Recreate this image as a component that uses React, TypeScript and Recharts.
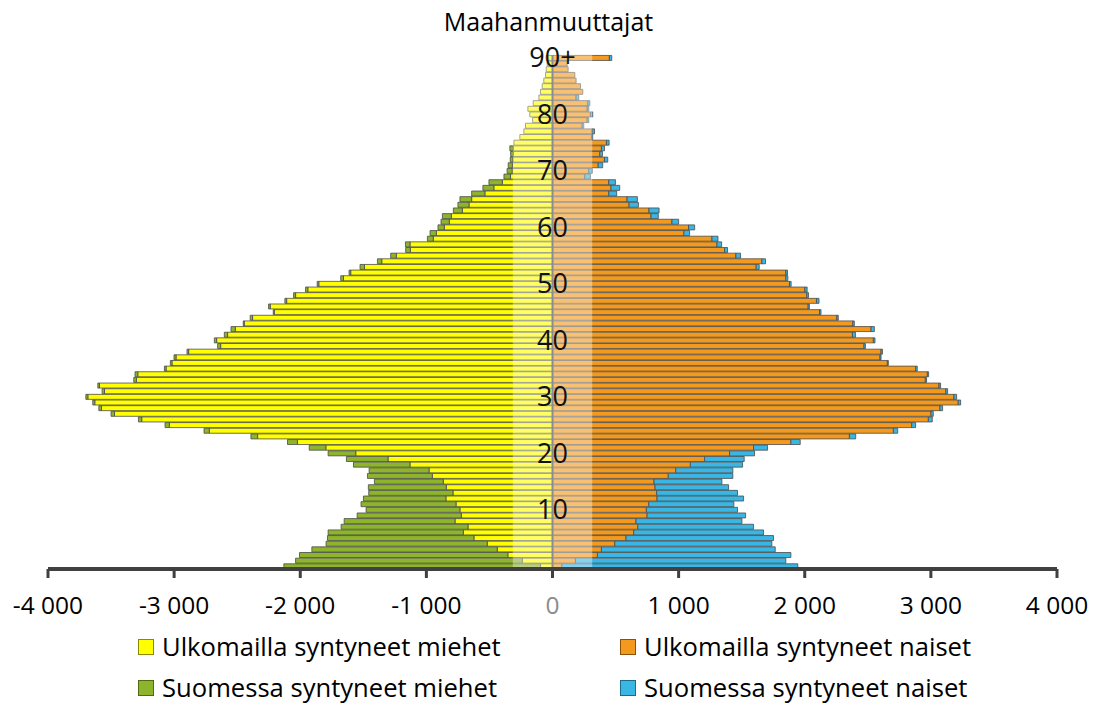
import React from 'react';
import { BarChart, Bar, XAxis, YAxis, ReferenceArea, ReferenceLine } from 'recharts';

// ages 0..89 and 90+
const ages = [...Array.from({ length: 90 }, (_, i) => String(i)), '90+'];

// values per age, index = age (0..90+)
const maleAbroad = [
  95, 240, 354, 438, 517, 623, 707, 670, 773, 723,
  734, 765, 845, 789, 842, 866, 953, 979, 1130, 1304,
  1560, 1797, 2022, 2338, 2721, 3038, 3257, 3473, 3576, 3629,
  3684, 3552, 3592, 3299, 3288, 3064, 3017, 2985, 2885, 2631,
  2663, 2576, 2515, 2444, 2378, 2206, 2238, 2108, 2037, 1940,
  1853, 1657, 1600, 1491, 1354, 1238, 1127, 1130, 945, 921,
  858, 818, 802, 715, 662, 641, 536, 465, 398, 333,
  320, 318, 315, 310, 311, 306, 259, 227, 214, 158,
  180, 195, 153, 108, 95, 82, 69, 55, 50, 42,
  50,
];
const maleFinland = [
  2035, 1797, 1652, 1470, 1278, 1161, 1072, 1006, 879, 826,
  744, 753, 654, 668, 618, 546, 514, 475, 448, 330,
  219, 132, 79, 53, 42, 34, 26, 27, 21, 16,
  16, 19, 13, 21, 22, 13, 13, 16, 13, 24,
  18, 26, 34, 8, 19, 8, 13, 14, 16, 18,
  13, 22, 13, 35, 34, 45, 37, 36, 47, 50,
  50, 66, 71, 71, 88, 93, 105, 87, 106, 52,
  40, 33, 20, 22, 27, 0, 0, 0, 0, 0,
  0, 0, 0, 0, 0, 0, 0, 0, 0, 0,
  0,
];
const femaleAbroad = [
  74, 182, 356, 388, 494, 583, 644, 676, 662, 750,
  744, 763, 829, 826, 813, 805, 918, 977, 1093, 1206,
  1404, 1594, 1890, 2354, 2703, 2848, 2980, 3001, 3072, 3217,
  3183, 3119, 3064, 2956, 2972, 2879, 2655, 2597, 2605, 2470,
  2544, 2378, 2526, 2381, 2254, 2117, 2027, 2093, 2016, 2001,
  1879, 1850, 1850, 1615, 1660, 1454, 1365, 1304, 1264, 1042,
  1079, 947, 781, 765, 607, 591, 446, 464, 446, 256,
  288, 362, 412, 375, 388, 428, 309, 314, 235, 275,
  301, 275, 280, 187, 240, 222, 187, 177, 124, 116,
  451,
];
const femaleFinland = [
  1871, 1668, 1534, 1378, 1245, 1169, 1029, 918, 840, 781,
  723, 675, 686, 641, 583, 538, 512, 453, 414, 314,
  198, 111, 74, 50, 34, 31, 31, 18, 21, 19,
  21, 14, 13, 10, 10, 13, 8, 8, 11, 11,
  13, 24, 26, 12, 12, 12, 10, 20, 14, 18,
  13, 16, 13, 24, 29, 37, 23, 37, 48, 45,
  48, 53, 58, 80, 74, 82, 63, 69, 53, 45,
  26, 36, 26, 21, 24, 21, 10, 19, 13, 13,
  18, 13, 16, 21, 0, 0, 0, 0, 0, 0,
  19,
];

const xTicks = [-4000, -3000, -2000, -1000, 0, 1000, 2000, 3000, 4000];
const ageLabels = ['10', '20', '30', '40', '50', '60', '70', '80', '90+'];

const series = [
  { key: 'maleAbroad', name: 'Ulkomailla syntyneet miehet', color: '#FFFF00', border: '#8a8a00' },
  { key: 'maleFinland', name: 'Suomessa syntyneet miehet', color: '#8DB42B', border: '#4f6a10' },
  { key: 'femaleAbroad', name: 'Ulkomailla syntyneet naiset', color: '#F39A1E', border: '#8a5208' },
  { key: 'femaleFinland', name: 'Suomessa syntyneet naiset', color: '#3AB6E4', border: '#1d6a8a' },
];

const data = ages.map((age, i) => ({
  age,
  maleAbroad: -maleAbroad[i],
  maleFinland: -maleFinland[i],
  femaleAbroad: femaleAbroad[i],
  femaleFinland: femaleFinland[i],
}));

const font = '"Open Sans", sans-serif';

const fmt = (v: number) => {
  const s = String(Math.abs(v)).replace(/\B(?=(\d{3})+(?!\d))/g, ' ');
  return v < 0 ? '-' + s : s;
};

const XTick = (props: any) => {
  const { x, y, payload } = props;
  const v = payload.value;
  return (
    <text x={x} y={y} dy="0.71em" textAnchor="middle" fontSize={24.5} fontFamily={font}
      fill={v === 0 ? '#8c8c8c' : '#000'}>
      {fmt(v)}
    </text>
  );
};

const legendPos = [
  { left: 138, top: 630 },
  { left: 138, top: 671 },
  { left: 620, top: 630 },
  { left: 620, top: 671 },
];

export default function App() {
  return (
    <div style={{ position: 'absolute', left: 0, top: 0, width: 1097, height: 706, background: '#fff', fontFamily: font }}>
      <div style={{ position: 'absolute', top: 4, left: 0, width: 1097, textAlign: 'center', fontSize: 25, color: '#000', lineHeight: '34px' }}>
        Maahanmuuttajat
      </div>
      <BarChart
        width={1097}
        height={706}
        data={data}
        layout="vertical"
        stackOffset="sign"
        barCategoryGap="8%"
        margin={{ top: 55, right: 40, left: 48, bottom: 77 }}
      >
        <XAxis
          type="number"
          domain={[-4000, 4000]}
          ticks={xTicks}
          interval={0}
          height={60}
          axisLine={{ stroke: '#404040', strokeWidth: 4 }}
          tickLine={{ stroke: '#404040', strokeWidth: 3 }}
          tickSize={9}
          tickMargin={19}
          tick={<XTick />}
        />
        <YAxis type="category" dataKey="age" reversed hide width={0} />
        {series.map((s) => (
          <Bar
            key={s.key}
            dataKey={s.key}
            name={s.name}
            stackId="p"
            fill={s.color}
            stroke="#4a4a4a"
            strokeWidth={0.8}
            isAnimationActive={false}
          />
        ))}
        <ReferenceArea x1={-315} x2={315} fill="#ffffff" fillOpacity={0.38} stroke="none" zIndex={350} />
        <ReferenceLine x={0} stroke="#8c8c8c" strokeWidth={2} zIndex={360} />
        {ageLabels.map((a) => (
          <ReferenceLine
            key={a}
            y={a}
            stroke="none"
            zIndex={2000}
            label={{ value: a, position: 'center', fontSize: 27, fill: '#111', fontFamily: font }}
          />
        ))}
      </BarChart>
      {series.map((s, i) => (
        <div key={s.key} style={{ position: 'absolute', left: legendPos[i].left, top: legendPos[i].top, height: 34, display: 'flex', alignItems: 'center', fontSize: 25.6, lineHeight: '34px', color: '#000', whiteSpace: 'nowrap' }}>
          <span style={{ display: 'inline-block', width: 14, height: 14, background: s.color, border: `1px solid ${s.border}`, marginRight: 8 }} />
          {s.name}
        </div>
      ))}
    </div>
  );
}
